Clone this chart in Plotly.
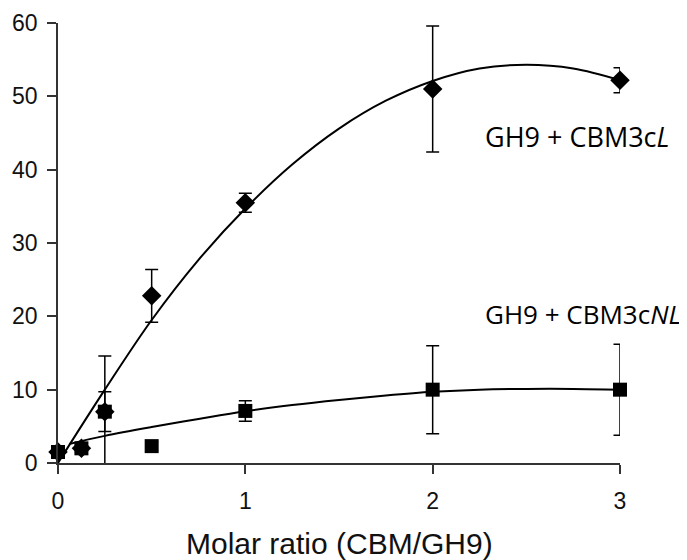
import plotly.graph_objects as go

# ---- data ----
ratio = [0, 0.125, 0.25, 0.5, 1, 2, 3]

cbm_l = [1.5, 2.0, 7.0, 22.8, 35.5, 51.0, 52.2]
cbm_l_err = [0.5, 0.5, 2.7, 3.6, 1.3, 8.6, 1.7]

cbm_nl = [1.5, 2.0, 7.0, 2.3, 7.1, 10.0, 10.0]
cbm_nl_err = [0.5, 0.6, 7.6, 0.6, 1.4, 6.0, 6.2]

# trend curves
fit_x = [0, 0.25, 0.5, 0.75, 1, 1.25, 1.5, 1.75, 2, 2.25, 2.5, 2.75, 3]
fit_l = [0.0, 10.0, 19.5, 27.7, 34.7, 40.7, 45.6, 49.4, 52.1, 53.8, 54.3, 53.8, 52.2]

fit_nl_x = [0.06, 0.25, 0.5, 0.75, 1, 1.25, 1.5, 1.75, 2, 2.25, 2.5, 2.75, 3]
fit_nl = [2.6, 3.7, 4.9, 6.0, 7.05, 7.9, 8.6, 9.2, 9.7, 10.0, 10.1, 10.1, 10.0]

x_ticks = [0, 1, 2, 3]
y_ticks = [0, 10, 20, 30, 40, 50, 60]

label_l = "GH9 + CBM3c<i>L</i>"
label_nl = "GH9 + CBM3c<i>NL</i>"
x_title = "Molar ratio (CBM/GH9)"

fig = go.Figure()

fig.add_trace(go.Scatter(x=fit_x, y=fit_l, mode="lines",
                         line=dict(color="black", width=2, shape="spline"),
                         showlegend=False, hoverinfo="skip"))
fig.add_trace(go.Scatter(x=fit_nl_x, y=fit_nl, mode="lines",
                         line=dict(color="black", width=2, shape="spline"),
                         showlegend=False, hoverinfo="skip"))

fig.add_trace(go.Scatter(
    x=ratio, y=cbm_l, mode="markers",
    marker=dict(symbol="diamond", size=15, color="black"),
    error_y=dict(type="data", array=cbm_l_err, visible=True,
                 color="black", thickness=1.5, width=6.5),
    cliponaxis=False, showlegend=False))

fig.add_trace(go.Scatter(
    x=ratio, y=cbm_nl, mode="markers",
    marker=dict(symbol="square", size=14, color="black"),
    error_y=dict(type="data", array=cbm_nl_err, visible=True,
                 color="black", thickness=1.5, width=6.5),
    cliponaxis=False, showlegend=False))

fig.add_annotation(x=0.756, y=0.742, xref="paper", yref="paper", text=label_l,
                   showarrow=False, xanchor="left", yanchor="middle",
                   font=dict(family="Open Sans", size=27, color="black"))
fig.add_annotation(x=0.756, y=0.338, xref="paper", yref="paper", text=label_nl,
                   showarrow=False, xanchor="left", yanchor="middle",
                   font=dict(family="Open Sans", size=26, color="black"))
fig.add_annotation(x=0.5, y=-0.183, xref="paper", yref="paper", text=x_title,
                   showarrow=False, xanchor="center", yanchor="middle",
                   font=dict(family="Liberation Sans, Arial", size=30, color="#111"))

axis_font = dict(family="Liberation Sans, Arial", size=23, color="#111")

# page body has an 8px margin: the figure is sized to fit inside the window
fig.update_layout(
    width=679, height=552,
    margin=dict(l=50, r=67, t=15, b=97, autoexpand=False),
    paper_bgcolor="white", plot_bgcolor="white",
    xaxis=dict(range=[0, 3], tickvals=x_ticks, ticks="outside", ticklen=9,
               tickwidth=1.5, tickcolor="#333", showline=True, linecolor="#333",
               linewidth=1.5, showgrid=False, zeroline=False, automargin=False,
               tickfont=axis_font, ticklabelstandoff=8),
    yaxis=dict(range=[0, 60], tickvals=y_ticks, ticks="outside", ticklen=9,
               tickwidth=1.5, tickcolor="#333", showline=True, linecolor="#333",
               linewidth=1.5, showgrid=False, zeroline=False, automargin=False,
               tickfont=axis_font, ticklabelstandoff=5),
)

fig.write_html("out.html")
